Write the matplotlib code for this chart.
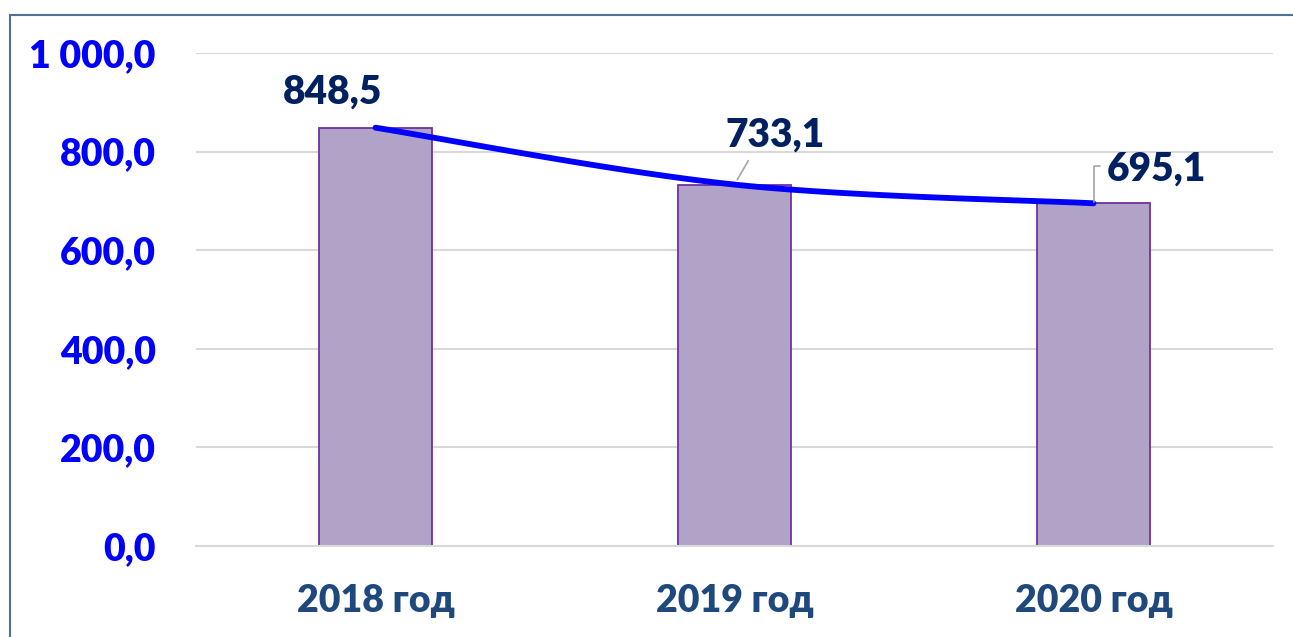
import numpy as np
import matplotlib
matplotlib.use("Agg")
import matplotlib.pyplot as plt
from matplotlib.patches import Rectangle

# data
years = ["2018 год", "2019 год", "2020 год"]
values = [848.5, 733.1, 695.1]
value_labels = ["848,5", "733,1", "695,1"]
y_ticks = [0, 200, 400, 600, 800, 1000]
y_tick_labels = ["0,0", "200,0", "400,0", "600,0", "800,0", "1 000,0"]

WEIGHT = 'heavy'
plt.rcParams['font.family'] = ['Lato', 'DejaVu Sans']
plt.rcParams['font.weight'] = WEIGHT

W, H = 1293, 637
fig = plt.figure(figsize=(W / 100, H / 100), dpi=100)
ax = fig.add_axes([196 / W, 91 / H, (1273 - 196) / W, (546 - 53) / H])

x = np.arange(len(years))
ax.bar(x, values, width=0.315, color='#B1A2C7', edgecolor='#7030A0', linewidth=1.3, zorder=2)


# smoothed line like Excel (Catmull-Rom as cubic Bezier segments)
def smooth(px, py, n=60):
    pts = np.column_stack([px, py]).astype(float)
    ext = np.vstack([pts[0], pts, pts[-1]])
    out = []
    for i in range(len(pts) - 1):
        p0, p1, p2, p3 = ext[i], ext[i + 1], ext[i + 2], ext[i + 3]
        c1 = p1 + (p2 - p0) / 6
        c2 = p2 - (p3 - p1) / 6
        t = np.linspace(0, 1, n)[:, None]
        seg = ((1 - t) ** 3) * p1 + 3 * ((1 - t) ** 2) * t * c1 + 3 * (1 - t) * t ** 2 * c2 + t ** 3 * p2
        out.append(seg)
    out = np.vstack(out)
    return out[:, 0], out[:, 1]


sx, sy = smooth(x, values)
ax.plot(sx, sy, color='#0000FF', lw=4.2, solid_capstyle='round', zorder=3)

# data labels
lab_kw = dict(textcoords='offset pixels', ha='center', va='center',
              fontsize=28, fontweight=WEIGHT, color='#002060', zorder=4)
ax.annotate(value_labels[0], (x[0], values[0]), xytext=(-43, 36), **lab_kw)
ax.annotate(value_labels[1], (x[1], values[1]), xytext=(41, 50),
            arrowprops=dict(arrowstyle='-', color='#A6A6A6', lw=1.2,
                            relpos=(0.27, 0.0), shrinkA=4, shrinkB=4), **lab_kw)
ax.annotate(value_labels[2], (x[2], values[2]), xytext=(63, 34),
            arrowprops=dict(arrowstyle='-', color='#A6A6A6', lw=1.2,
                            relpos=(0.0, 0.6), shrinkA=3, shrinkB=1,
                            connectionstyle='angle,angleA=0,angleB=90,rad=0'), **lab_kw)

ax.set_xlim(-0.5, 2.5)
ax.set_ylim(0, 1000)
ax.set_yticks(y_ticks)
ax.set_yticklabels(y_tick_labels)
ax.set_xticks(x)
ax.set_xticklabels(years)
ax.tick_params(axis='y', length=0, pad=29, labelsize=27, labelcolor='#0000FF')
ax.tick_params(axis='x', length=0, pad=27, labelsize=27, labelcolor='#1F497D')
for lab in ax.get_xticklabels() + ax.get_yticklabels():
    lab.set_fontweight(WEIGHT)

ax.grid(axis='y', color='#D9D9D9', lw=1.5, zorder=0)
ax.set_axisbelow(True)
for s in ['top', 'right', 'left']:
    ax.spines[s].set_visible(False)
ax.spines['bottom'].set_color('#D9D9D9')
ax.spines['bottom'].set_linewidth(1.5)

# outer chart frame (runs off the right and bottom edges)
fig.patches.append(Rectangle((10 / W, -0.1), 2, 622 / H + 0.1, fill=False,
                             edgecolor='#4F6F95', lw=1.5, transform=fig.transFigure))

fig.savefig("out.png", dpi=100)
